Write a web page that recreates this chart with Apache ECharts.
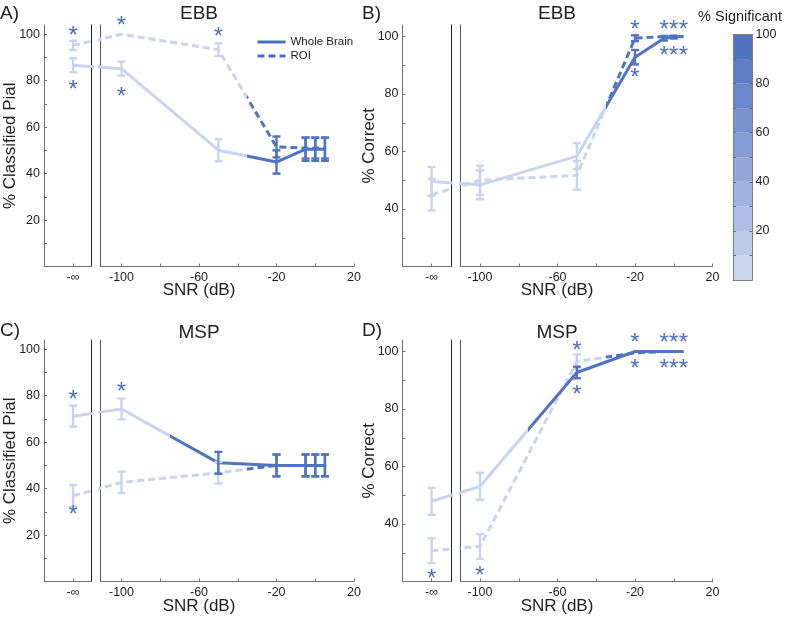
<!DOCTYPE html>
<html><head><meta charset="utf-8">
<script src="https://cdn.jsdelivr.net/npm/echarts@6/dist/echarts.min.js"></script>
<style>html,body{margin:0;padding:0;background:#fff}#c{width:787px;height:619px}</style>
</head><body><div id="c"></div>
<script>
// ---------------- DATA ----------------
const snrLabels = ['-∞', '-100', '-50', '-20', '-5', '0', '5'];
const snrValues = [-125, -100, -50, -20, -5, 0, 5];   // -∞ drawn at -125 on the broken axis
const infPosition = -125;
const infLabel = '-∞';
const xTickValues = [-100, -80, -60, -40, -20, 0, 20];
const xLabelValues = [-100, -60, -20, 20];

const panelLetters = ['A)', 'B)', 'C)', 'D)'];
const panelTitles = ['EBB', 'EBB', 'MSP', 'MSP'];
const yAxisNames = ['% Classified Pial', '% Correct', '% Classified Pial', '% Correct'];
const xAxisName = 'SNR (dB)';
const yMinPial = 0, yMinCorrect = 20, yMaxAll = 104;
const yTicksPial = [10, 20, 30, 40, 50, 60, 70, 80, 90, 100];
const yLabelsPial = [20, 40, 60, 80, 100];
const yTicksCorrect = [30, 40, 50, 60, 70, 80, 90, 100];
const yLabelsCorrect = [40, 60, 80, 100];

const seriesNames = ['Whole Brain', 'ROI'];

// Panel A (EBB, % classified pial)
const wbA = [86.7, 85.2, 50.1, 45.0, 50.5, 50.5, 50.5];
const errWbA = [3, 3, 4.8, 5, 5, 5, 5];
const sigWbA = [5, 5, 5, 100, 100, 100, 100];
const roiA = [95.2, 100, 93.4, 51.5, 51, 51, 51];
const errRoiA = [2, 0, 2.7, 4.5, 4.5, 4.5, 4.5];
const sigRoiA = [5, 5, 5, 100, 100, 100, 100];
const starsA = [[-125, 102], [-125, 78.8], [-100, 106], [-100, 75.6], [-50, 101.3]];

// Panel B (EBB, % correct)
const wbB = [49.6, 48.4, 58.4, 92.8, 99.4, 99.8, 100];
const errWbB = [5, 5, 4.5, 2.5, 0.8, 0.5, 0];
const sigWbB = [5, 5, 5, 100, 100, 100, 100];
const roiB = [45, 50, 51.7, 99.4, 100, 100, 100];
const errRoiB = [5.5, 5, 5, 1, 0, 0, 0];
const sigRoiB = [5, 5, 5, 100, 100, 100, 100];
const starsB = [[-20, 104.4], [-20, 87.6], [-5, 104.4], [0, 104.4], [5, 104.4], [-5, 95.4], [0, 95.4], [5, 95.4]];

// Panel C (MSP, % classified pial)
const wbC = [71.2, 74.3, 51.1, 50, 50, 50, 50];
const errWbC = [4.5, 4.5, 4.7, 4.7, 4.7, 4.7, 4.7];
const sigWbC = [5, 5, 100, 100, 100, 100, 100];
const roiC = [36.9, 42.7, 46.8, 50, 50, 50, 50];
const errRoiC = [4.6, 4.6, 4.6, 4.7, 4.7, 4.7, 4.7];
const sigRoiC = [5, 5, 5, 100, 100, 100, 100];
const starsC = [[-125, 80.9], [-125, 31.0], [-100, 84.1]];

// Panel D (MSP, % correct)
const wbD = [47.9, 53.1, 92.7, 100, 100, 100, 100];
const errWbD = [4.7, 4.7, 2, 0, 0, 0, 0];
const sigWbD = [5, 5, 100, 100, 100, 100, 100];
const roiD = [30.7, 32.2, 96.5, 99.5, 100, 100, 100];
const errRoiD = [4.3, 4.3, 2.5, 0, 0, 0, 0];
const sigRoiD = [5, 5, 5, 100, 100, 100, 100];
const starsD = [[-125, 22.9], [-100, 23.9], [-50, 102.3], [-50, 86.9], [-20, 105], [-20, 96],
                [-5, 105], [0, 105], [5, 105], [-5, 96], [0, 96], [5, 96]];

// Colour bar
const colorbarTitle = '% Significant';
const colorbarBandEdges = [0, 10, 20, 30, 40, 50, 60, 70, 80, 90, 100];
const colorbarTickValues = [10, 20, 30, 40, 50, 60, 70, 80, 90];
const colorbarLabelValues = [20, 40, 60, 80, 100];

// ---------------- STYLE / LAYOUT ----------------
const FONT = '"Liberation Sans", Arial, Helvetica, sans-serif';
const sigPalette = ['#c9d5ee', '#bbc9ea', '#adbde5', '#a0b2e0', '#93a7db', '#869cd6', '#7991d1', '#6c87cc', '#5f7dc6', '#5174c1'];
const AXIS_COLOR = '#707070';
const BREAK_L = '#222222';
const BREAK_R = '#5a5a5a';
const TEXT_COLOR = '#1e1e1e';
const STAR_COLOR = '#4a6fc0';
const DARK = '#4a6fbf';
const LINE_W = 3, ERR_W = 2.4, CAP_W = 8, DASH = [7, 4];
const STAR_SIZE = 24, STAR_DY = 0.265 * 24;
const X_MIN = -140, X_MAX = 20, PX_PER_DB = 1.9375, PLOT_H = 241.5;
const TICK_FS = 12.5;

const layout = [
  {left: 44, top: 25, breakLo: -115.5, breakHi: -111, cx: 199, titleY: 14, letterX: 0, letterY: 14, snrY: 290},
  {left: 402.5, top: 25, breakLo: -114.8, breakHi: -110, cx: 557, titleY: 14, letterX: 362, letterY: 14, snrY: 290},
  {left: 44, top: 340, breakLo: -115.5, breakHi: -111, cx: 199, titleY: 333, letterX: 0, letterY: 331, snrY: 606},
  {left: 402.5, top: 340, breakLo: -114.8, breakHi: -110, cx: 557, titleY: 333, letterX: 362, letterY: 331, snrY: 606}
];

const panels = [
  {wb: wbA, wbErr: errWbA, wbSig: sigWbA, roi: roiA, roiErr: errRoiA, roiSig: sigRoiA, stars: starsA, yMin: yMinPial, ticks: yTicksPial, labels: yLabelsPial},
  {wb: wbB, wbErr: errWbB, wbSig: sigWbB, roi: roiB, roiErr: errRoiB, roiSig: sigRoiB, stars: starsB, yMin: yMinCorrect, ticks: yTicksCorrect, labels: yLabelsCorrect},
  {wb: wbC, wbErr: errWbC, wbSig: sigWbC, roi: roiC, roiErr: errRoiC, roiSig: sigRoiC, stars: starsC, yMin: yMinPial, ticks: yTicksPial, labels: yLabelsPial},
  {wb: wbD, wbErr: errWbD, wbSig: sigWbD, roi: roiD, roiErr: errRoiD, roiSig: sigRoiD, stars: starsD, yMin: yMinCorrect, ticks: yTicksCorrect, labels: yLabelsCorrect}
];

function sigColor(s) { return sigPalette[Math.max(0, Math.min(9, Math.floor(s / 10)))]; }

function piecesFor(sig) {
  return snrValues.map((x, i) => {
    const piece = {color: sigColor(sig[i])};
    if (i > 0) piece.gte = (snrValues[i - 1] + x) / 2;
    if (i < snrValues.length - 1) piece.lt = (x + snrValues[i + 1]) / 2;
    return piece;
  });
}

function renderErrorBar(params, api) {
  const x = api.value(0), lo = api.value(1), hi = api.value(2), s = api.value(3);
  const a = api.coord([x, lo]), b = api.coord([x, hi]);
  const hw = CAP_W / 2;
  const style = {stroke: sigColor(s), lineWidth: ERR_W, fill: null};
  return {type: 'group', children: [
    {type: 'line', shape: {x1: a[0], y1: a[1], x2: b[0], y2: b[1]}, style: style},
    {type: 'line', shape: {x1: a[0] - hw, y1: a[1], x2: a[0] + hw, y2: a[1]}, style: style},
    {type: 'line', shape: {x1: b[0] - hw, y1: b[1], x2: b[0] + hw, y2: b[1]}, style: style}
  ]};
}

function renderStar(params, api) {
  const p = api.coord([api.value(0), api.value(1)]);
  return {type: 'text', x: p[0], y: p[1] + STAR_DY,
    style: {text: '*', fill: STAR_COLOR, fontSize: STAR_SIZE, fontFamily: FONT, align: 'center', verticalAlign: 'middle'}};
}

function renderBand(params, api) {
  const cs = params.coordSys;
  const top = api.coord([0, api.value(2)])[1];
  const bot = api.coord([0, api.value(1)])[1];
  return {type: 'rect', shape: {x: cs.x, y: top, width: cs.width, height: bot - top},
    style: {fill: sigColor(api.value(1) + 5), stroke: null}};
}

const grids = [], xAxes = [], yAxes = [], series = [], visualMaps = [], graphics = [];
let legendAxes = null;

layout.forEach((L, p) => {
  const P = panels[p];
  const parts = [
    {isLeft: true, min: X_MIN, max: L.breakLo, left: L.left},
    {isLeft: false, min: L.breakHi, max: X_MAX, left: L.left + (L.breakHi - X_MIN) * PX_PER_DB}
  ];
  parts.forEach(part => {
    const gi = grids.length;
    grids.push({left: part.left, top: L.top, width: (part.max - part.min) * PX_PER_DB, height: PLOT_H,
      containLabel: false, outerBoundsMode: 'none'});
    const xi = xAxes.length;
    xAxes.push({
      gridIndex: gi, type: 'value', min: part.min, max: part.max, position: 'bottom',
      axisLine: {show: true, onZero: false, lineStyle: {color: AXIS_COLOR, width: 1}},
      axisTick: {show: true, inside: true, length: 3, customValues: part.isLeft ? [infPosition] : xTickValues,
        lineStyle: {color: AXIS_COLOR}},
      axisLabel: {show: true, customValues: part.isLeft ? [infPosition] : xLabelValues,
        formatter: v => (part.isLeft ? infLabel : String(v)), color: TEXT_COLOR, fontSize: TICK_FS, fontFamily: FONT, margin: 5},
      splitLine: {show: false}
    });
    const yi = yAxes.length;
    yAxes.push({
      gridIndex: gi, type: 'value', min: P.yMin, max: yMaxAll, position: 'left',
      axisLine: {show: true, onZero: false, lineStyle: {color: part.isLeft ? AXIS_COLOR : BREAK_R, width: 1}},
      axisTick: {show: part.isLeft, inside: true, length: 3, customValues: P.ticks, lineStyle: {color: AXIS_COLOR}},
      axisLabel: {show: part.isLeft, customValues: P.labels, color: TEXT_COLOR, fontSize: TICK_FS, fontFamily: FONT, margin: 4},
      splitLine: {show: false},
      name: part.isLeft ? yAxisNames[p] : '', nameLocation: 'middle', nameGap: 25, nameRotate: 90,
      nameMoveOverlap: false,
      nameTextStyle: {fontSize: 17, color: TEXT_COLOR, fontFamily: FONT}
    });
    if (part.isLeft) {
      yAxes.push({gridIndex: gi, type: 'value', min: P.yMin, max: yMaxAll, position: 'right',
        axisLine: {show: true, onZero: false, lineStyle: {color: BREAK_L, width: 1}},
        axisTick: {show: false}, axisLabel: {show: false}, splitLine: {show: false}});
    }
    if (p === 0 && !part.isLeft) legendAxes = {xi, yi};
    const inRange = x => x >= part.min && x <= part.max;

    [[P.roi, P.roiSig, DASH], [P.wb, P.wbSig, 'solid']].forEach(([vals, sig, type]) => {
      const si = series.length;
      series.push({type: 'line', xAxisIndex: xi, yAxisIndex: yi,
        data: snrValues.map((x, i) => [x, vals[i]]),
        symbol: 'none', lineStyle: {width: LINE_W, type: type}, clip: true, silent: true, z: 2});
      visualMaps.push({type: 'piecewise', show: false, dimension: 0, seriesIndex: si, pieces: piecesFor(sig)});
    });

    const bars = [];
    [[P.roi, P.roiErr, P.roiSig], [P.wb, P.wbErr, P.wbSig]].forEach(([vals, err, sig]) => {
      snrValues.forEach((x, i) => {
        if (inRange(x) && err[i] > 0) bars.push([x, vals[i] - err[i], vals[i] + err[i], sig[i]]);
      });
    });
    bars.sort((a, b) => a[3] - b[3]);
    series.push({type: 'custom', xAxisIndex: xi, yAxisIndex: yi, data: bars, renderItem: renderErrorBar,
      encode: {x: 0, y: [1, 2]}, z: 3, silent: true});
    series.push({type: 'custom', xAxisIndex: xi, yAxisIndex: yi, data: P.stars.filter(s => inRange(s[0])),
      renderItem: renderStar, encode: {x: 0, y: 1}, z: 4, silent: true});
  });

  graphics.push({type: 'text', x: L.letterX, y: L.letterY,
    style: {text: panelLetters[p], fontSize: 19, fontFamily: FONT, fill: TEXT_COLOR, align: 'left', verticalAlign: 'middle'}});
  graphics.push({type: 'text', x: L.cx, y: L.titleY,
    style: {text: panelTitles[p], fontSize: 19, fontFamily: FONT, fill: TEXT_COLOR, align: 'center', verticalAlign: 'middle'}});
  graphics.push({type: 'text', x: L.cx, y: L.snrY,
    style: {text: xAxisName, fontSize: 17, fontFamily: FONT, fill: TEXT_COLOR, align: 'center', verticalAlign: 'middle'}});
});

// legend dummy series
seriesNames.forEach((name, k) => {
  series.push({type: 'line', name: name, xAxisIndex: legendAxes.xi, yAxisIndex: legendAxes.yi, data: [],
    symbol: 'none', itemStyle: {color: DARK},
    lineStyle: {color: DARK, width: LINE_W, type: k === 0 ? 'solid' : DASH}});
});

// colour bar
const cbGi = grids.length;
grids.push({left: 733, top: 34.5, width: 19.5, height: 245.5, containLabel: false, outerBoundsMode: 'none'});
const cbX = xAxes.length;
xAxes.push({gridIndex: cbGi, type: 'value', min: 0, max: 1, position: 'bottom', z: 10,
  axisLine: {show: true, onZero: false, lineStyle: {color: '#808080'}}, axisTick: {show: false}, axisLabel: {show: false}, splitLine: {show: false}});
xAxes.push({gridIndex: cbGi, type: 'value', min: 0, max: 1, position: 'top', z: 10,
  axisLine: {show: true, onZero: false, lineStyle: {color: '#808080'}}, axisTick: {show: false}, axisLabel: {show: false}, splitLine: {show: false}});
const cbY = yAxes.length;
yAxes.push({gridIndex: cbGi, type: 'value', min: 0, max: 100, position: 'right', z: 10,
  axisLine: {show: true, onZero: false, lineStyle: {color: '#808080'}},
  axisTick: {show: true, inside: true, length: 3, customValues: colorbarTickValues, lineStyle: {color: '#6a6a6a'}},
  axisLabel: {show: true, customValues: colorbarLabelValues, color: TEXT_COLOR, fontSize: TICK_FS, fontFamily: FONT, margin: 3},
  splitLine: {show: false}});
yAxes.push({gridIndex: cbGi, type: 'value', min: 0, max: 100, position: 'left', z: 10,
  axisLine: {show: true, onZero: false, lineStyle: {color: '#808080'}},
  axisTick: {show: true, inside: true, length: 3, customValues: colorbarTickValues, lineStyle: {color: '#6a6a6a'}},
  axisLabel: {show: false}, splitLine: {show: false}});
const bands = [];
for (let i = 0; i < colorbarBandEdges.length - 1; i++) bands.push([0, colorbarBandEdges[i], colorbarBandEdges[i + 1]]);
series.push({type: 'custom', xAxisIndex: cbX, yAxisIndex: cbY, data: bands, renderItem: renderBand,
  encode: {x: 0, y: [1, 2]}, z: 1, silent: true});
graphics.push({type: 'text', x: 740, y: 17,
  style: {text: colorbarTitle, fontSize: 14.5, fontFamily: FONT, fill: TEXT_COLOR, align: 'center', verticalAlign: 'middle'}});

const chart = echarts.init(document.getElementById('c'), null, {renderer: 'canvas'});
chart.setOption({
  animation: false,
  backgroundColor: '#ffffff',
  textStyle: {fontFamily: FONT},
  grid: grids, xAxis: xAxes, yAxis: yAxes, series: series, visualMap: visualMaps,
  legend: {data: seriesNames, orient: 'vertical', left: 256, top: 36, padding: 0, itemWidth: 28, itemHeight: 14,
    itemGap: 2, selectedMode: false,
    itemStyle: {color: 'rgba(0,0,0,0)', borderWidth: 0, opacity: 0},
    lineStyle: {width: LINE_W, color: DARK},
    textStyle: {fontSize: 11.5, color: TEXT_COLOR, fontFamily: FONT}},
  graphic: graphics
});
</script></body></html>
